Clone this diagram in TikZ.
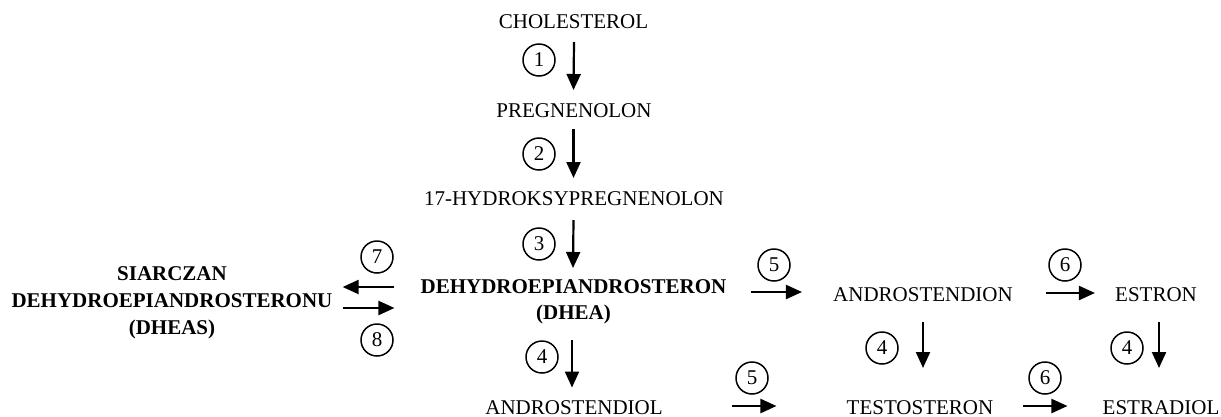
\documentclass[tikz,border=0pt]{standalone}
\usepackage{fontspec}
\setmainfont{Liberation Serif}
\usetikzlibrary{arrows.meta,calc}
\begin{document}
\begin{tikzpicture}[x=1pt,y=-1pt,
  lbl/.style={inner sep=0pt, font=\fontsize{21}{27}\selectfont, align=center},
  blbl/.style={lbl, font=\fontsize{21}{27}\selectfont\bfseries},
  num/.style={circle, draw, line width=1.5pt, minimum size=32pt, inner sep=0pt, font=\fontsize{21}{21}\selectfont},
  arr/.style={line width=2.2pt, -{Triangle[length=16pt,width=14pt]}}]
\useasboundingbox (0,0) rectangle (1221,416);
% substances
\node[lbl] (chol) at (573.5,22) {CHOLESTEROL};
\node[lbl] (preg) at (574,111) {PREGNENOLON};
\node[lbl] (hyd) at (574,199) {17-HYDROKSYPREGNENOLON};
\node[blbl, anchor=north] (dhea) at (573.5,279) {DEHYDROEPIANDROSTERON\\[-1pt](DHEA)};
\node[blbl, anchor=north] (dheas) at (172,266) {SIARCZAN\\DEHYDROEPIANDROSTERONU\\(DHEAS)};
\node[lbl] (andn) at (923,295) {ANDROSTENDION};
\node[lbl] (estron) at (1156,295) {ESTRON};
\node[lbl] (andiol) at (574,407.5) {ANDROSTENDIOL};
\node[lbl] (testo) at (920,407.5) {TESTOSTERON};
\node[lbl] (estrad) at (1161,407.5) {ESTRADIOL};
% enzyme numbers
\node[num] (n1) at (539,60) {1};
\node[num] (n2) at (539,154) {2};
\node[num] (n3) at (539,244) {3};
\node[num] (n4a) at (542,357) {4};
\node[num] (n5a) at (774,265) {5};
\node[num] (n5b) at (752,378) {5};
\node[num] (n6a) at (1065,265) {6};
\node[num] (n6b) at (1045,378) {6};
\node[num] (n4b) at (882,348) {4};
\node[num] (n4c) at (1127,348) {4};
\node[num] (n7) at (377,257) {7};
\node[num] (n8) at (377,340) {8};
% vertical arrows
\draw[arr] ($(chol.center)+(0.5,20)$) -- ($(preg.center)+(-0.5,-21)$);
\draw[arr] ($(preg.center)+(-0.5,18)$) -- ($(hyd.center)+(-0.5,-21)$);
\draw[arr] ($(hyd.center)+(-0.5,21)$) -- ($(dhea.north)+(-0.5,-11)$);
\draw[arr] ($(dhea.north)+(-1.5,61)$) -- ($(andiol.center)+(-2,-20)$);
\draw[arr] ($(andn.center)+(0,27)$) -- ($(andn.center)+(0,73)$);
\draw[arr] ($(estron.center)+(3,27)$) -- ($(estron.center)+(3,73)$);
% horizontal arrows
\draw[arr] ($(dhea.north east)+(24,13)$) -- ($(andn.west)+(-31,-3)$);
\draw[arr] ($(andn.east)+(33,-2)$) -- ($(estron.west)+(-20,-2)$);
\draw[arr] ($(andiol.east)+(69,-1.5)$) -- ($(testo.west)+(-70,-1.5)$);
\draw[arr] ($(testo.east)+(29,-1.5)$) -- ($(estrad.west)+(-35,-1.5)$);
\draw[arr] ($(dhea.north west)+(-26,8)$) -- ($(dheas.east |- n7)+(10,30)$);
\draw[arr] ($(dheas.east |- n8)+(10,-32)$) -- ($(dhea.north west)+(-26,29)$);
\end{tikzpicture}
\end{document}
